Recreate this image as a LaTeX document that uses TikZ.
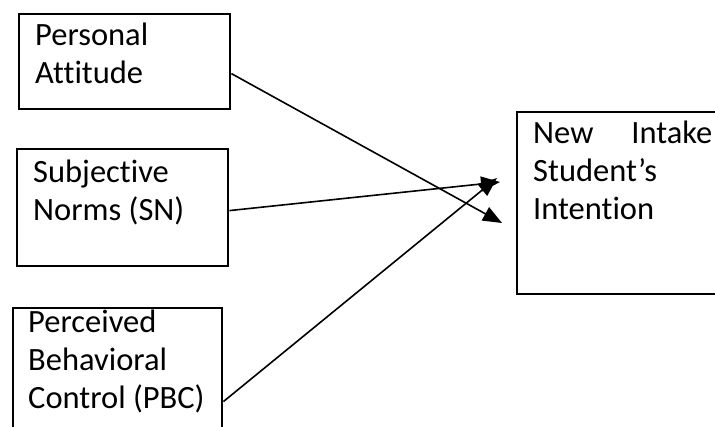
\documentclass[tikz,border=0pt]{standalone}
\usepackage{fontspec}
\setmainfont{Carlito}[Ligatures=NoCommon]
\usetikzlibrary{arrows.meta}
\begin{document}
\begin{tikzpicture}[x=1pt, y=-1pt, every node/.style={font=\fontsize{32.5}{38}\selectfont},
  blk/.style={draw, line width=2.8pt, inner sep=0pt, minimum width=#1},
  lbl/.style={anchor=base west, inner sep=0pt, align=left},
  arr/.style={line width=1.6pt, -{Triangle[length=19pt, width=15pt]}}]
\useasboundingbox (0,0) rectangle (715,427);
\clip (0,0) rectangle (715,427);
\node[blk=211pt, minimum height=95pt] (pa) at (124.5,61.5) {};
\node[blk=211pt, minimum height=117pt] (sn) at (122.5,207.5) {};
\node[blk=209pt, minimum height=162pt] (pbc) at (117.5,389) {};
\node[blk=243pt, minimum height=182pt] (ni) at (638.5,203) {};
% baselines: last line, first line for the text width one
\node[lbl] (pat) at (35,84) {Personal\\Attitude};
\node[lbl] (snt) at (33,221) {Subjective\\Norms (SN)};
\node[lbl] (pbct) at (28,409) {Perceived\\Behavioral\\Control (PBC)};
\node[lbl, text width=179pt] (nit) at (533,144) {New \hfill Intake\\Student’s\\Intention};
\coordinate (tip1) at (502,223);
\coordinate (tip2) at (500,182);
\coordinate (tip3) at (497,178);
\draw[arr] ([yshift=-61pt]pa.north east) -- (tip1);
\draw[arr] ([yshift=-63pt]sn.north east) -- (tip2);
\draw[arr] ([yshift=-95pt]pbc.north east) -- (tip3);
\end{tikzpicture}
\end{document}
